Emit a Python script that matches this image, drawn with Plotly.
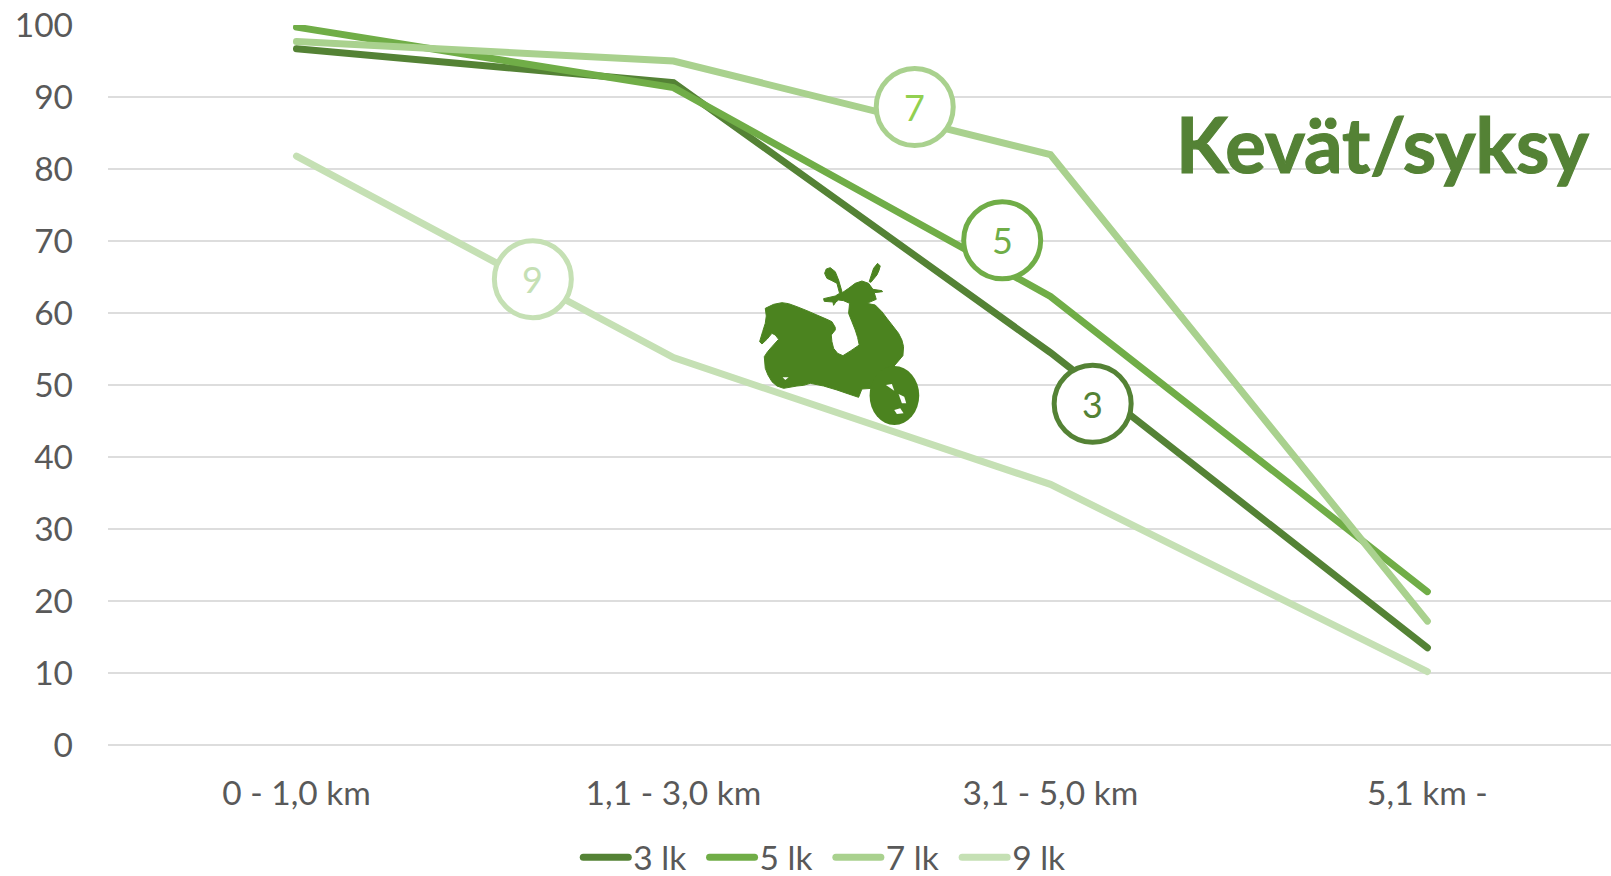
import plotly.graph_objects as go

categories = ["0 - 1,0 km", "1,1 - 3,0 km", "3,1 - 5,0 km", "5,1 km -"]
series_names = ["3 lk", "5 lk", "7 lk", "9 lk"]
values_3 = [96.7, 92.0, 54.5, 13.5]
values_5 = [99.7, 91.3, 62.3, 21.3]
values_7 = [97.7, 95.0, 82.0, 17.2]
values_9 = [81.8, 53.8, 36.2, 10.2]
colors = ["#548235", "#70AD47", "#A9D18E", "#C5E0B4"]
badge_labels = ["3", "5", "7", "9"]
badge_x = [2.112, 1.872, 1.64, 0.627]
badge_y = [47.4, 70.1, 88.6, 64.7]
badge_text_colors = ["#548235", "#70AD47", "#92D050", "#C5E0B4"]

W, H = 1611, 876
L, R, T, B = 107.5, 0, 25, 131
FONT = "Lato"
GREY = "#595959"


def px(x, y):
    return (x - L) / (W - L - R), 1 - (y - T) / (H - T - B)


def zoom_path(points):
    out = []
    for i, (zx, zy) in enumerate(points):
        x, y = px(720 + zx / 3, 240 + zy / 3)
        out.append(f"{'M' if i == 0 else 'L'}{x:.5f},{y:.5f}")
    return " ".join(out) + " Z"


scooter_body = [(135,205),(160,193),(185,188),(205,191),(230,200),(260,212),(290,225),(320,238),(335,245),(345,262),(345,270),
    (333,285),(335,305),(340,325),(352,340),(368,347),(392,332),(417,315),(412,292),(405,270),(395,245),(385,220),(388,190),
    (370,182),(355,180),(347,186),(340,196),(338,186),(312,184),(310,176),(345,168),(358,160),(350,130),(335,122),(320,115),
    (313,100),(318,87),(330,83),(345,95),(355,120),(366,158),(385,145),(405,130),(425,123),(445,130),(458,148),(485,152),
    (487,155),(462,158),(468,178),(440,190),(465,195),(485,215),(500,235),(518,258),(535,280),(545,300),(550,320),(548,347),
    (520,380),(480,440),(455,445),(425,447),(415,472),(385,462),(350,450),(310,438),(270,430),(250,436),(230,438),(190,445),
    (170,438),(155,425),(143,405),(135,385),(132,350),(142,335),(155,320),(175,298),(165,285),(155,280),(140,298),(125,312),
    (118,305),(127,275),(135,250),(138,228)]
scooter_mirror = [(447,125),(455,100),(460,85),(472,70),(480,78),(476,92),(470,105),(452,127)]
scooter_holes = [[(497,435),(515,432),(522,452)], [(535,462),(552,470),(558,490),(545,490)],
    [(522,510),(540,505),(550,520),(530,522)], [(187,412),(205,412),(195,420)]]
SCOOTER = "#4B831F"

shapes = [dict(type="path", xref="paper", yref="paper", path=zoom_path(p), fillcolor=SCOOTER,
               line=dict(width=1, color=SCOOTER), layer="above") for p in (scooter_body, scooter_mirror)]
wx0, wy0 = px(720 + 448 / 3, 240 + 378 / 3)
wx1, wy1 = px(720 + 597 / 3, 240 + 555 / 3)
shapes.append(dict(type="circle", xref="paper", yref="paper", x0=wx0, x1=wx1, y0=wy1, y1=wy0,
                   fillcolor=SCOOTER, line=dict(width=0), layer="above"))
shapes += [dict(type="path", xref="paper", yref="paper", path=zoom_path(h), fillcolor="white",
                line=dict(width=0), layer="above") for h in scooter_holes]

fig = go.Figure()
xs = list(range(len(categories)))
for name, vals, c in zip(series_names, [values_3, values_5, values_7, values_9], colors):
    fig.add_trace(go.Scatter(x=xs, y=vals, name=name, mode="lines",
                             line=dict(color=c, width=7), hoverinfo="skip"))

fig.add_trace(go.Scatter(
    x=badge_x, y=badge_y, mode="markers", showlegend=False, hoverinfo="skip",
    marker=dict(size=77, color="white", line=dict(color=colors, width=5)),
))

annotations = [dict(text=t, x=x, y=y, xref="x", yref="y", yshift=0, showarrow=False,
                    xanchor="center", yanchor="middle", font=dict(family=FONT, size=36, color=c))
               for t, x, y, c in zip(badge_labels, badge_x, badge_y, badge_text_colors)]
annotations.append(dict(text="<b>Kevät/syksy</b>", xref="paper", yref="paper", x=px(1383, 0)[0], y=px(0, 143)[1],
                        xanchor="center", yanchor="middle", showarrow=False,
                        font=dict(family=FONT, size=76, color="#548235")))

fig.update_layout(
    width=W, height=H, margin=dict(l=L, r=R, t=T, b=B, pad=0, autoexpand=False),
    paper_bgcolor="white", plot_bgcolor="white",
    font=dict(family=FONT, color=GREY, size=33.5),
    xaxis=dict(range=[-0.5, 3.487], tickvals=xs, ticktext=categories, showgrid=False, zeroline=False,
               showline=False, ticks="", ticklabelstandoff=25, tickfont=dict(size=33.5, color=GREY),
               automargin=False),
    yaxis=dict(range=[0, 100], tick0=0, dtick=10, gridcolor="#DDDDDD", gridwidth=1.6, zeroline=True,
               zerolinecolor="#DDDDDD", zerolinewidth=1.6, showline=False, ticks="", ticklabelstandoff=34,
               tickfont=dict(size=33.5, color=GREY), automargin=False),
    legend=dict(orientation="h", xanchor="center", x=px(831, 0)[0], yanchor="bottom", y=px(0, 886)[1],
                itemwidth=45, entrywidth=66.3, entrywidthmode="pixels",
                font=dict(size=33.5, color=GREY), bgcolor="rgba(0,0,0,0)", tracegroupgap=0),
    shapes=shapes,
    annotations=annotations,
)

post = """
document.querySelectorAll('.js-line').forEach(function(p){p.style.strokeLinecap='round';});
document.querySelectorAll('.legendlines path').forEach(function(p){p.style.strokeLinecap='round';});
document.querySelectorAll('.annotation-text').forEach(function(t){
  if(t.textContent.indexOf('syksy')>=0){t.style.stroke='#548235';t.style.strokeWidth='1.2px';}
});
document.body.style.margin='0';
"""
fig.write_html("out.html", post_script=post, config=dict(displayModeBar=False))
